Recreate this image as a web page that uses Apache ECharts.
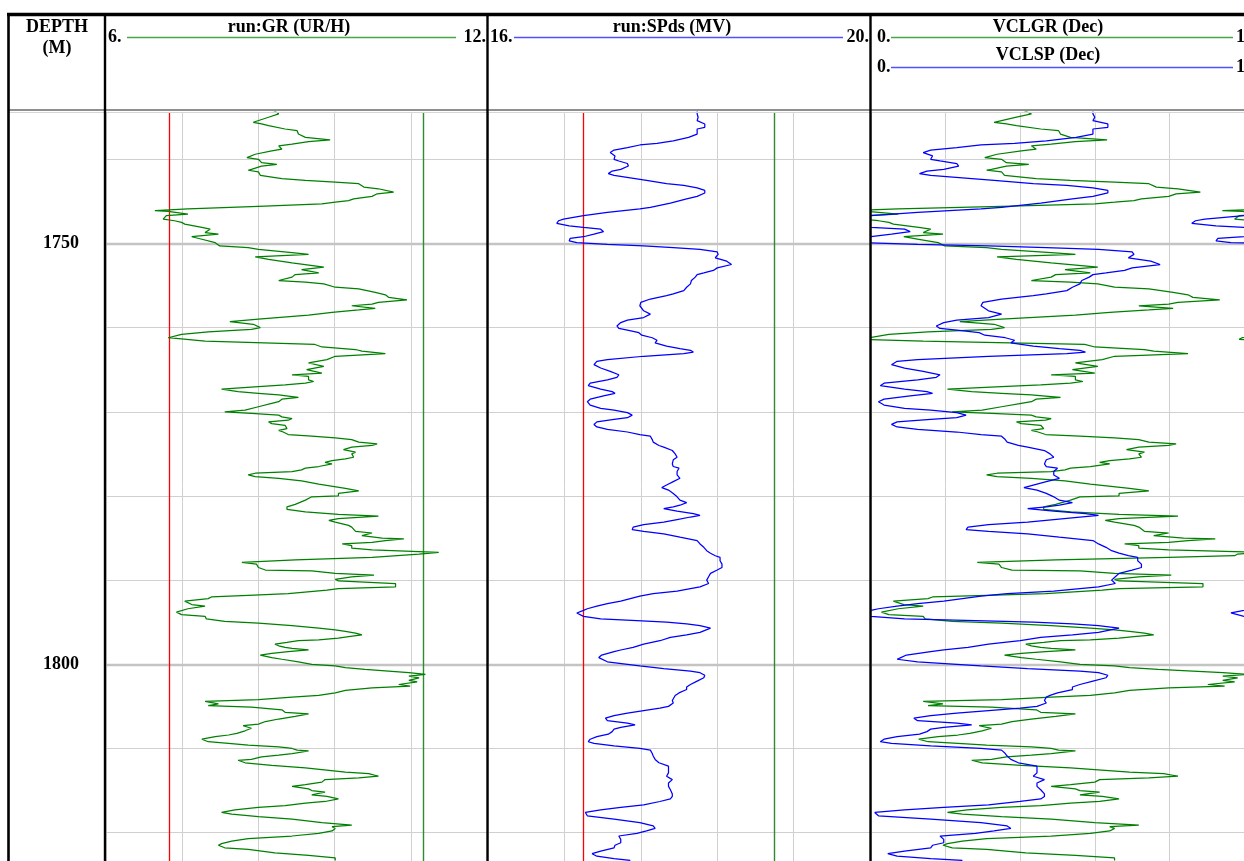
<!DOCTYPE html>
<html>
<head>
<meta charset="utf-8">
<script src="https://cdn.jsdelivr.net/npm/echarts@6/dist/echarts.min.js"></script>
<style>
html,body{margin:0;padding:0;background:#ffffff;}
#chart{width:1244px;height:861px;}
</style>
</head>
<body>
<div id="chart"></div>
<script>
// ---------------- DATA ----------------
const depthRange = [1734.38, 1823.37];
const depthGridLines = [1740, 1750, 1760, 1770, 1780, 1790, 1800, 1810, 1820];
const depthMajorLines = [1750, 1800];
const depthLabels = [1750, 1800];
const grScale = [6, 12];
const spScale = [16, 20];
const vclScale = [0, 1];
const grCutoffs = [7, 11];
const spCutoffs = [17, 19];

const grDepth = [
1734.2,1734.6,1735.0,1735.2,1735.6,1735.8,1736.0,1736.4,1736.6,1737.0,
1737.4,1737.7,1737.9,1738.2,1738.4,1738.8,1739.0,1739.4,1739.8,1740.0,
1740.4,1740.6,1740.8,1741.2,1741.3,1741.5,1741.9,1742.1,1742.3,1742.5,
1742.7,1742.9,1743.3,1743.5,1743.9,1744.1,1744.4,1744.7,1744.9,1745.1,
1745.3,1745.6,1745.9,1746.1,1746.2,1746.5,1746.7,1747.1,1747.3,1747.5,
1747.7,1748.1,1748.3,1748.7,1748.9,1749.2,1749.5,1749.7,1749.9,1750.3,
1750.5,1750.7,1751.1,1751.3,1751.6,1751.9,1752.3,1752.8,1753.1,1753.5,
1753.7,1754.0,1754.4,1754.6,1754.8,1755.2,1755.4,1755.8,1756.1,1756.4,
1756.7,1757.0,1757.2,1757.4,1757.7,1757.9,1758.2,1758.5,1759.0,1759.3,
1759.6,1760.0,1760.2,1760.5,1760.8,1761.2,1761.4,1761.6,1762.0,1762.3,
1762.6,1762.8,1763.1,1763.4,1763.8,
1764.2,1764.6,1765.0,1765.4,1765.6,1765.8,1766.2,1766.4,1766.6,1766.8,
1767.0,1767.3,1767.6,1767.8,1768.0,1768.2,1768.3,1768.5,1768.8,1769.0,
1769.4,1769.8,1770.0,1770.2,1770.4,1770.6,1770.8,1771.0,1771.2,1771.4,
1771.6,1772.0,1772.2,1772.4,1772.7,1772.9,1773.1,1773.3,1773.6,1773.8,
1774.0,1774.2,1774.5,1774.8,1775.0,1775.4,1775.6,1775.8,1776.0,1776.2,
1776.5,1776.7,1776.9,1777.1,1777.3,1777.5,1777.7,1777.9,1778.2,1778.6,
1778.8,1779.1,1779.4,1779.7,1780.0,1780.1,1780.5,1781.0,1781.3,1781.6,
1781.9,1782.2,1782.4,1782.7,1782.9,1783.1,1783.5,1783.7,1783.9,1784.2,
1784.4,1784.7,1785.0,1785.1,1785.3,1785.5,1785.7,1785.9,1786.2,1786.4,
1786.7,1786.9,1787.1,1787.3,1787.6,1787.9,1788.1,1788.5,1788.8,1788.9,
1789.2,1789.4,1789.6,1789.9,1790.1,1790.4,1790.8,1791.0,1791.2,1791.6,
1791.8,1792.0,1792.2,1792.5,1792.9,1793.1,1793.4,
1793.8,1794.1,1794.3,1794.6,1794.9,1795.1,1795.4,1795.7,1795.9,1796.1,
1796.3,1796.5,1796.7,1796.9,1797.1,1797.2,1797.4,1797.6,1797.8,1798.0,
1798.1,1798.3,1798.5,1798.7,1798.9,1799.2,1799.4,1799.7,1800.0,1800.2,
1800.4,1800.6,1800.8,1801.0,1801.2,1801.4,1801.6,1801.9,1802.1,1802.4,
1802.6,1802.8,1803.1,1803.4,1803.7,1803.9,1804.2,1804.4,1804.7,1804.9,
1805.1,1805.4,1805.7,1805.9,1806.2,1806.5,1806.8,1807.1,1807.3,1807.6,
1807.9,1808.2,1808.4,1808.6,1808.9,1809.2,1809.4,1809.6,1809.8,1810.0,
1810.2,1810.3,1810.6,1810.8,1811.0,1811.3,1811.4,1811.7,1812.0,1812.3,
1812.5,1812.8,1813.0,1813.3,1813.5,1813.7,1814.0,1814.3,1814.5,1814.8,
1815.0,1815.2,1815.5,1815.7,1816.0,1816.3,1816.5,1816.8,1817.0,1817.3,
1817.6,1817.8,1818.1,1818.4,1818.8,1819.1,1819.3,1819.5,1819.8,1820.1,
1820.4,1820.7,1821.0,1821.3,1821.5,1821.8,1822.0,1822.4,1822.7,1823.0,
1823.3
];
const grValues = [
8.64,8.72,8.56,8.58,8.32,8.45,8.56,8.82,9.01,9.03,
9.14,9.53,9.19,8.93,8.72,8.77,8.61,8.35,8.22,8.40,
8.45,8.69,8.45,8.29,8.24,8.40,8.43,8.45,8.77,9.14,
9.61,9.98,10.06,10.29,10.53,10.27,10.19,9.90,9.82,9.61,
9.40,8.40,7.29,6.77,6.98,7.29,6.95,6.90,7.08,7.19,
7.24,7.51,7.64,7.56,7.77,7.35,7.51,7.51,7.72,7.79,
8.24,8.40,8.93,9.19,8.35,8.56,8.93,9.43,9.08,9.35,
8.98,8.93,8.72,9.14,9.43,9.61,9.98,10.24,10.40,10.45,
10.74,10.29,10.19,9.87,10.24,9.98,9.56,9.19,8.40,7.95,
8.32,8.43,8.29,7.61,7.19,6.98,6.95,7.56,9.29,9.40,
9.93,10.03,10.40,9.61,9.48,
9.19,9.43,9.16,9.40,8.93,9.19,9.19,9.27,9.14,8.82,
8.40,7.82,8.08,8.40,8.72,8.93,9.03,8.77,8.72,8.61,
8.40,8.19,7.87,8.29,8.72,8.77,8.93,8.87,8.56,8.61,
8.82,8.85,8.72,8.79,8.87,9.24,9.61,9.87,9.98,10.27,
10.19,9.87,9.74,9.93,9.87,9.90,9.77,9.56,9.45,9.56,
9.35,9.14,9.08,8.93,8.35,8.24,8.35,8.72,9.08,9.35,
9.35,9.77,9.98,9.66,9.66,9.24,9.14,8.98,8.85,8.85,
9.14,9.66,10.29,9.66,9.51,9.61,9.82,9.87,9.87,9.93,
10.19,10.03,10.35,10.69,10.40,10.19,9.72,9.87,9.87,10.19,
11.24,10.93,10.90,10.19,8.98,8.14,8.37,8.40,8.51,9.24,
9.61,10.22,9.87,9.61,9.66,10.56,10.56,9.66,9.48,8.87,
8.24,7.66,7.61,7.24,7.35,7.56,7.29,
7.11,7.19,7.56,7.58,7.87,8.40,8.93,9.35,9.61,9.77,
9.93,10.03,9.82,9.66,9.35,9.03,8.85,8.66,8.72,8.82,
8.93,9.19,8.87,8.61,8.43,8.61,8.77,9.03,9.24,9.61,
9.77,10.08,10.45,10.77,11.03,10.77,10.93,10.77,10.90,10.61,
10.79,10.19,9.77,9.61,9.35,8.93,8.40,7.56,7.77,7.61,
8.29,8.77,8.82,9.19,8.98,8.72,8.51,8.40,8.16,8.29,
8.19,8.06,7.93,7.72,7.51,7.61,7.93,8.24,8.72,8.93,
9.01,9.19,8.93,8.72,8.45,8.29,8.08,8.19,8.61,9.14,
9.40,9.77,10.14,10.29,9.98,9.45,9.40,9.14,8.93,9.19,
9.24,9.45,9.24,9.48,9.66,9.45,9.14,8.82,8.40,8.03,
7.82,7.98,8.40,8.93,9.40,9.87,9.56,9.61,9.56,9.35,
8.93,8.24,7.98,7.82,7.77,7.87,8.24,8.66,9.19,9.61,
9.61
];
const vclgrValues = [
0.410,0.430,0.390,0.395,0.330,0.363,0.390,0.455,0.503,0.508,
0.535,0.633,0.548,0.483,0.430,0.443,0.403,0.338,0.305,0.350,
0.363,0.423,0.363,0.323,0.310,0.350,0.358,0.363,0.443,0.535,
0.653,0.745,0.765,0.823,0.883,0.818,0.798,0.725,0.705,0.653,
0.600,0.350,0.073,-0.058,-0.005,0.073,-0.013,-0.025,0.020,0.048,
0.060,0.128,0.160,0.140,0.193,0.088,0.128,0.128,0.180,0.198,
0.310,0.350,0.483,0.548,0.338,0.390,0.483,0.608,0.520,0.588,
0.495,0.483,0.430,0.535,0.608,0.653,0.745,0.810,0.850,0.863,
0.935,0.823,0.798,0.718,0.810,0.745,0.640,0.548,0.350,0.238,
0.330,0.358,0.323,0.153,0.048,-0.005,-0.013,0.140,0.573,0.600,
0.733,0.758,0.850,0.653,0.620,
0.548,0.608,0.540,0.600,0.483,0.548,0.548,0.568,0.535,0.455,
0.350,0.205,0.270,0.350,0.430,0.483,0.508,0.443,0.430,0.403,
0.350,0.298,0.218,0.323,0.430,0.443,0.483,0.468,0.390,0.403,
0.455,0.463,0.430,0.448,0.468,0.560,0.653,0.718,0.745,0.818,
0.798,0.718,0.685,0.733,0.718,0.725,0.693,0.640,0.613,0.640,
0.588,0.535,0.520,0.483,0.338,0.310,0.338,0.430,0.520,0.588,
0.588,0.693,0.745,0.665,0.665,0.560,0.535,0.495,0.463,0.463,
0.535,0.665,0.823,0.665,0.628,0.653,0.705,0.718,0.718,0.733,
0.798,0.758,0.838,0.923,0.850,0.798,0.680,0.718,0.718,0.798,
1.060,0.983,0.975,0.798,0.495,0.285,0.343,0.350,0.378,0.560,
0.653,0.805,0.718,0.653,0.665,0.890,0.890,0.665,0.620,0.468,
0.310,0.165,0.153,0.060,0.088,0.140,0.073,
0.028,0.048,0.140,0.145,0.218,0.350,0.483,0.588,0.653,0.693,
0.733,0.758,0.705,0.665,0.588,0.508,0.463,0.415,0.430,0.455,
0.483,0.548,0.468,0.403,0.358,0.403,0.443,0.508,0.560,0.653,
0.693,0.770,0.863,0.943,1.008,0.943,0.983,0.943,0.975,0.903,
0.948,0.798,0.693,0.653,0.588,0.483,0.350,0.140,0.193,0.153,
0.323,0.443,0.455,0.548,0.495,0.430,0.378,0.350,0.290,0.323,
0.298,0.265,0.233,0.180,0.128,0.153,0.233,0.310,0.430,0.483,
0.503,0.548,0.483,0.430,0.363,0.323,0.270,0.298,0.403,0.535,
0.600,0.693,0.785,0.823,0.745,0.613,0.600,0.535,0.483,0.548,
0.560,0.613,0.560,0.620,0.665,0.613,0.535,0.455,0.350,0.258,
0.205,0.245,0.350,0.483,0.600,0.718,0.640,0.653,0.640,0.588,
0.483,0.310,0.245,0.205,0.193,0.218,0.310,0.415,0.548,0.653,
0.653
];

const spDepth = [
1734.3,
1734.6,1735.0,1735.4,1735.8,1736.2,1736.4,1737.0,1737.4,1737.8,1738.1,
1738.3,1738.6,1738.9,1739.2,1739.6,1740.0,1740.2,1740.5,1740.8,1741.2,
1741.4,1741.7,1741.9,1742.2,1742.5,1742.9,1743.1,1743.4,1743.7,1744.0,
1744.4,1744.7,1745.2,1745.7,1745.9,1746.3,1746.7,1747.1,1747.3,1747.6,
1747.9,1748.1,1748.3,1748.6,1748.9,1749.2,1749.4,1749.7,1749.9,1750.1,
1750.3,1750.5,1750.7,1751.0,1751.3,1751.7,1752.1,1752.5,1752.9,1753.2,
1753.5,1753.7,1754.0,1754.4,1754.8,1755.2,1755.6,1756.0,1756.2,1756.6,
1757.0,1757.4,1758.0,1758.4,1758.8,1759.1,1759.4,1759.8,1760.1,1760.3,
1760.6,1760.9,1761.2,1761.5,1761.8,1762.2,1762.5,1762.7,1762.9,1763.1,
1763.4,1763.8,1764.0,
1764.4,1764.8,1765.2,1765.6,1765.9,1766.2,1766.6,1766.9,1767.3,1767.6,
1767.8,1768.1,1768.5,1768.8,1769.2,1769.6,1769.8,1770.1,1770.4,1770.7,
1770.9,1771.2,1771.5,1771.8,1772.1,1772.4,1772.7,1772.9,1773.3,1773.6,
1774.0,1774.2,1774.6,1775.0,1775.4,1775.7,1776.2,1776.5,1776.7,1777.1,
1777.5,1777.9,1778.3,1778.7,1779.0,1779.3,1779.7,1780.1,1780.5,1780.8,
1781.1,1781.3,1781.5,1781.8,1782.1,1782.3,1782.5,1782.8,1783.1,1783.4,
1783.7,1784.0,1784.2,1784.5,1784.9,1785.3,1785.7,1786.1,1786.5,1786.8,
1787.1,1787.3,1787.7,1788.1,1788.5,1788.8,1789.2,1789.6,1790.0,1790.4,
1790.8,1791.0,1791.3,1791.6,1791.9,1792.2,1792.5,1792.8,1793.1,1793.4,
1793.6,1793.9,
1794.3,1794.6,1794.8,1795.0,1795.2,1795.4,1795.7,1795.9,1796.2,1796.5,
1796.8,1797.2,1797.6,1798.0,1798.3,1798.5,1798.9,1799.2,1799.4,1799.7,
1800.0,1800.2,1800.5,1800.8,1801.0,1801.3,1801.6,1802.0,1802.4,1802.7,
1803.0,1803.4,1803.7,1803.9,1804.3,1804.6,1805.0,1805.2,1805.5,1805.8,
1806.1,1806.4,1806.7,1807.0,1807.2,1807.5,1807.7,1808.0,1808.3,1808.6,
1808.9,1809.2,1809.4,1809.7,1810.0,1810.2,1810.6,1810.9,1811.3,1811.7,
1812.1,1812.5,1812.9,1813.3,1813.7,1814.1,1814.5,1814.9,1815.4,1815.7,
1816.0,1816.3,1816.7,1817.0,1817.3,1817.6,1817.8,1818.0,1818.4,1818.8,
1819.2,1819.5,1819.8,1820.1,1820.4,1820.8,1821.2,1821.5,1821.8,1822.2,
1822.5,1822.8,1823.1,1823.3
];
const spValues = [
18.19,
18.19,18.20,18.19,18.27,18.27,18.19,18.19,18.10,17.94,17.77,
17.59,17.46,17.32,17.28,17.33,17.32,17.37,17.46,17.47,17.39,
17.30,17.26,17.32,17.49,17.66,17.87,18.05,18.19,18.27,18.27,
18.19,18.08,17.91,17.70,17.59,17.25,17.00,16.79,16.74,16.72,
16.85,17.00,17.18,17.21,17.11,17.00,16.86,16.85,16.93,17.25,
17.63,17.94,18.22,18.40,18.41,18.38,18.50,18.55,18.40,18.36,
18.26,18.19,18.17,18.13,18.12,18.08,18.05,17.94,17.87,17.70,
17.60,17.59,17.63,17.70,17.63,17.46,17.39,17.35,17.37,17.46,
17.58,17.61,17.72,17.77,17.75,17.87,18.01,18.12,18.15,18.05,
17.63,17.25,17.14,
17.11,17.18,17.28,17.37,17.35,17.25,17.07,17.05,17.18,17.30,
17.33,17.21,17.07,17.04,17.07,17.18,17.32,17.46,17.51,17.46,
17.32,17.14,17.11,17.14,17.25,17.46,17.59,17.70,17.72,17.73,
17.79,17.84,17.93,17.96,17.98,17.94,17.93,17.94,18.00,17.98,
17.98,18.01,17.94,17.87,17.82,17.89,17.94,17.98,18.01,18.08,
18.01,17.94,17.84,17.98,18.15,18.22,18.12,17.98,17.84,17.63,
17.52,17.51,17.63,17.84,18.01,18.19,18.22,18.26,18.29,18.33,
18.38,18.43,18.43,18.45,18.45,18.40,18.33,18.31,18.29,18.31,
18.22,18.12,17.98,17.73,17.59,17.49,17.39,17.25,17.14,17.04,
17.00,16.93,
17.00,17.18,17.56,17.87,18.08,18.22,18.33,18.34,18.22,18.08,
17.91,17.80,17.63,17.52,17.39,17.32,17.19,17.16,17.14,17.25,
17.46,17.59,17.84,18.12,18.22,18.27,18.26,18.19,18.12,18.08,
18.08,18.00,17.96,17.94,17.93,17.94,17.89,17.80,17.63,17.46,
17.32,17.23,17.25,17.46,17.54,17.39,17.32,17.30,17.26,17.14,
17.07,17.05,17.11,17.32,17.59,17.70,17.72,17.73,17.75,17.79,
17.89,17.89,17.89,17.87,17.93,17.89,17.89,17.91,17.93,17.93,
17.91,17.80,17.63,17.39,17.18,17.02,17.01,17.04,17.32,17.59,
17.73,17.75,17.66,17.56,17.37,17.39,17.39,17.33,17.32,17.18,
17.09,17.14,17.32,17.49
];
const vclspValues = [
0.595,
0.595,0.600,0.595,0.635,0.635,0.595,0.595,0.550,0.470,0.385,
0.295,0.230,0.160,0.140,0.165,0.160,0.185,0.230,0.235,0.195,
0.150,0.130,0.160,0.245,0.330,0.435,0.525,0.595,0.635,0.635,
0.595,0.540,0.455,0.350,0.295,0.125,0.000,-0.105,-0.130,-0.140,
-0.075,0.000,0.090,0.105,0.055,0.000,-0.070,-0.075,-0.035,0.125,
0.315,0.470,0.610,0.700,0.705,0.690,0.750,0.775,0.700,0.680,
0.630,0.595,0.585,0.565,0.560,0.540,0.525,0.470,0.435,0.350,
0.300,0.295,0.315,0.350,0.315,0.230,0.195,0.175,0.185,0.230,
0.290,0.305,0.360,0.385,0.375,0.435,0.505,0.560,0.575,0.525,
0.315,0.125,0.070,
0.055,0.090,0.140,0.185,0.175,0.125,0.035,0.025,0.090,0.150,
0.165,0.105,0.035,0.020,0.035,0.090,0.160,0.230,0.255,0.230,
0.160,0.070,0.055,0.070,0.125,0.230,0.295,0.350,0.360,0.365,
0.395,0.420,0.465,0.480,0.490,0.470,0.465,0.470,0.500,0.490,
0.490,0.505,0.470,0.435,0.410,0.445,0.470,0.490,0.505,0.540,
0.505,0.470,0.420,0.490,0.575,0.610,0.560,0.490,0.420,0.315,
0.260,0.255,0.315,0.420,0.505,0.595,0.610,0.630,0.645,0.665,
0.690,0.715,0.715,0.725,0.725,0.700,0.665,0.655,0.645,0.655,
0.610,0.560,0.490,0.365,0.295,0.245,0.195,0.125,0.070,0.020,
0.000,-0.035,
0.000,0.090,0.280,0.435,0.540,0.610,0.665,0.670,0.610,0.540,
0.455,0.400,0.315,0.260,0.195,0.160,0.095,0.080,0.070,0.125,
0.230,0.295,0.420,0.560,0.610,0.635,0.630,0.595,0.560,0.540,
0.540,0.500,0.480,0.470,0.465,0.470,0.445,0.400,0.315,0.230,
0.160,0.115,0.125,0.230,0.270,0.195,0.160,0.150,0.130,0.070,
0.035,0.025,0.055,0.160,0.295,0.350,0.360,0.365,0.375,0.395,
0.445,0.445,0.445,0.435,0.465,0.445,0.445,0.455,0.465,0.465,
0.455,0.400,0.315,0.195,0.090,0.010,0.005,0.020,0.160,0.295,
0.365,0.375,0.330,0.280,0.185,0.195,0.195,0.165,0.160,0.090,
0.045,0.070,0.160,0.245
];

// ---------------- CHART ----------------
const pair = (depths, vals) => depths.map((d, i) => [vals[i], d]);

const GREEN = '#008000';
const BLUE = '#0000ff';
const GRID_COLOR = '#d0d0d0';
const SERIF = '"Liberation Serif", "Times New Roman", serif';

const gridY = { top: 112, bottom: 0 };
const grids = [
  { left: 106, width: 381, top: gridY.top, bottom: gridY.bottom },
  { left: 488, width: 382, top: gridY.top, bottom: gridY.bottom },
  { left: 871, width: 383, top: gridY.top, bottom: gridY.bottom }
];

function xAxisCfg(gridIndex, range, interval, show) {
  return {
    type: 'value', gridIndex, min: range[0], max: range[1], interval,
    position: 'top',
    axisLine: { show: false }, axisTick: { show: false }, axisLabel: { show: false },
    splitLine: { show: show, lineStyle: { color: GRID_COLOR, width: 1 } }
  };
}
function yAxisCfg(gridIndex, withLabels) {
  return {
    type: 'value', gridIndex, inverse: true, min: depthRange[0], max: depthRange[1],
    axisLine: { show: false }, axisTick: { show: false },
    splitLine: { show: false },
    axisLabel: withLabels ? {
      show: true, customValues: depthLabels, margin: 27,
      formatter: (v) => String(Math.round(v)),
      fontFamily: SERIF, fontWeight: 'bold', fontSize: 18, color: '#000'
    } : { show: false }
  };
}

function depthMarkLine() {
  return {
    silent: true, symbol: ['none', 'none'], animation: false,
    label: { show: false },
    lineStyle: { color: GRID_COLOR, width: 1, type: 'solid' },
    data: depthGridLines.map(d => ({
      yAxis: d,
      lineStyle: depthMajorLines.includes(d)
        ? { color: '#c4c4c4', width: 2.4, type: 'solid' }
        : { color: GRID_COLOR, width: 1, type: 'solid' }
    }))
  };
}
function cutoffMarkLine(value, color, width) {
  return {
    silent: true, symbol: ['none', 'none'], animation: false,
    label: { show: false },
    lineStyle: { color: color, width: width, type: 'solid', opacity: 1 },
    data: [{ xAxis: value }]
  };
}
function carrier(xi, yi, markLine, color) {
  return { type: 'line', xAxisIndex: xi, yAxisIndex: yi, data: [], z: 1, silent: true,
    color: color || '#cccccc', itemStyle: { color: color || '#cccccc' },
    lineStyle: { color: color || '#cccccc' }, markLine };
}

function curve(name, xi, yi, data, color, extra) {
  return Object.assign({
    name, type: 'line', xAxisIndex: xi, yAxisIndex: yi, data,
    showSymbol: false, symbol: 'none', clip: true, z: 10,
    lineStyle: { color, width: 1.25 }, itemStyle: { color }, animation: false, silent: true
  }, extra || {});
}

const font = (s) => 'bold ' + s + 'px ' + SERIF;
function txt(text, x, y, align, size) {
  return { type: 'text', z: 100, silent: true,
    style: { text, x, y, font: font(size || 18), fill: '#000',
      textAlign: align, textVerticalAlign: 'middle', align: align, verticalAlign: 'middle' } };
}
function ln(x1, y1, x2, y2, stroke, w) {
  return { type: 'line', z: 100, silent: true,
    shape: { x1, y1, x2, y2 }, style: { stroke, lineWidth: w } };
}

const graphics = [
  // header separator
  ln(8, 110, 1244, 110, '#8f8f8f', 2),
  ln(8, 112.5, 1244, 112.5, '#d6d6d6', 1),
  // frame
  ln(7, 14.5, 1244, 14.5, '#000', 3.5),
  ln(8.5, 13, 8.5, 861, '#000', 2.6),
  ln(105, 13, 105, 861, '#000', 2.4),
  ln(487.5, 13, 487.5, 861, '#000', 2.4),
  ln(870.5, 13, 870.5, 861, '#000', 2.4),
  // depth header
  txt('DEPTH', 57, 27, 'center'),
  txt('(M)', 57, 48, 'center'),
  // GR header
  txt('run:GR (UR/H)', 289, 27, 'center'),
  txt('6.', 108, 37, 'left'),
  ln(127, 37.5, 456, 37.5, '#46a846', 1.3),
  txt('12.', 486, 37, 'right'),
  // SP header
  txt('run:SPds (MV)', 672, 27, 'center'),
  txt('16.', 490, 37, 'left'),
  ln(514, 37.5, 843, 37.5, '#5050ff', 1.3),
  txt('20.', 869, 37, 'right'),
  // VCL header
  txt('VCLGR (Dec)', 1048, 27, 'center'),
  txt('0.', 877, 37, 'left'),
  ln(891, 37.5, 1233, 37.5, '#46a846', 1.3),
  txt('1.', 1236, 37, 'left'),
  txt('VCLSP (Dec)', 1048, 55, 'center'),
  txt('0.', 877, 67.5, 'left'),
  ln(891, 67.5, 1233, 67.5, '#5050ff', 1.3),
  txt('1.', 1236, 67.5, 'left')
];

const option = {
  backgroundColor: '#ffffff',
  animation: false,
  grid: grids,
  xAxis: [
    xAxisCfg(0, grScale, 1.2, true),
    xAxisCfg(1, spScale, 0.8, true),
    xAxisCfg(2, vclScale, 0.2, true),
    Object.assign(xAxisCfg(2, [vclScale[0] - 1, vclScale[1] - 1], 0.2, false), { show: false })
  ],
  yAxis: [ yAxisCfg(0, true), yAxisCfg(1, false), yAxisCfg(2, false) ],
  series: [
    // grid-line carriers
    carrier(0, 0, depthMarkLine()),
    carrier(0, 0, cutoffMarkLine(grCutoffs[0], '#ff0000', 1.3), '#ff0000'),
    carrier(0, 0, cutoffMarkLine(grCutoffs[1], '#2e8b2e', 1.4), '#2e8b2e'),
    carrier(1, 1, depthMarkLine()),
    carrier(1, 1, cutoffMarkLine(spCutoffs[0], '#ff0000', 1.3), '#ff0000'),
    carrier(1, 1, cutoffMarkLine(spCutoffs[1], '#2e8b2e', 1.4), '#2e8b2e'),
    carrier(2, 2, depthMarkLine()),
    // curves
    curve('run:GR', 0, 0, pair(grDepth, grValues), GREEN),
    curve('run:SPds', 1, 1, pair(spDepth, spValues), BLUE),
    curve('VCLGR', 2, 2, pair(grDepth, vclgrValues), GREEN),
    curve('VCLGR wrap', 3, 2, pair(grDepth, vclgrValues), GREEN),
    curve('VCLSP', 2, 2, pair(spDepth, vclspValues), BLUE, { z: 11 }),
    curve('VCLSP wrap', 3, 2, pair(spDepth, vclspValues), BLUE, { z: 11 })
  ],
  graphic: { elements: graphics }
};

const chart = echarts.init(document.getElementById('chart'), null, { renderer: 'canvas' });
chart.setOption(option);
</script>
</body>
</html>
